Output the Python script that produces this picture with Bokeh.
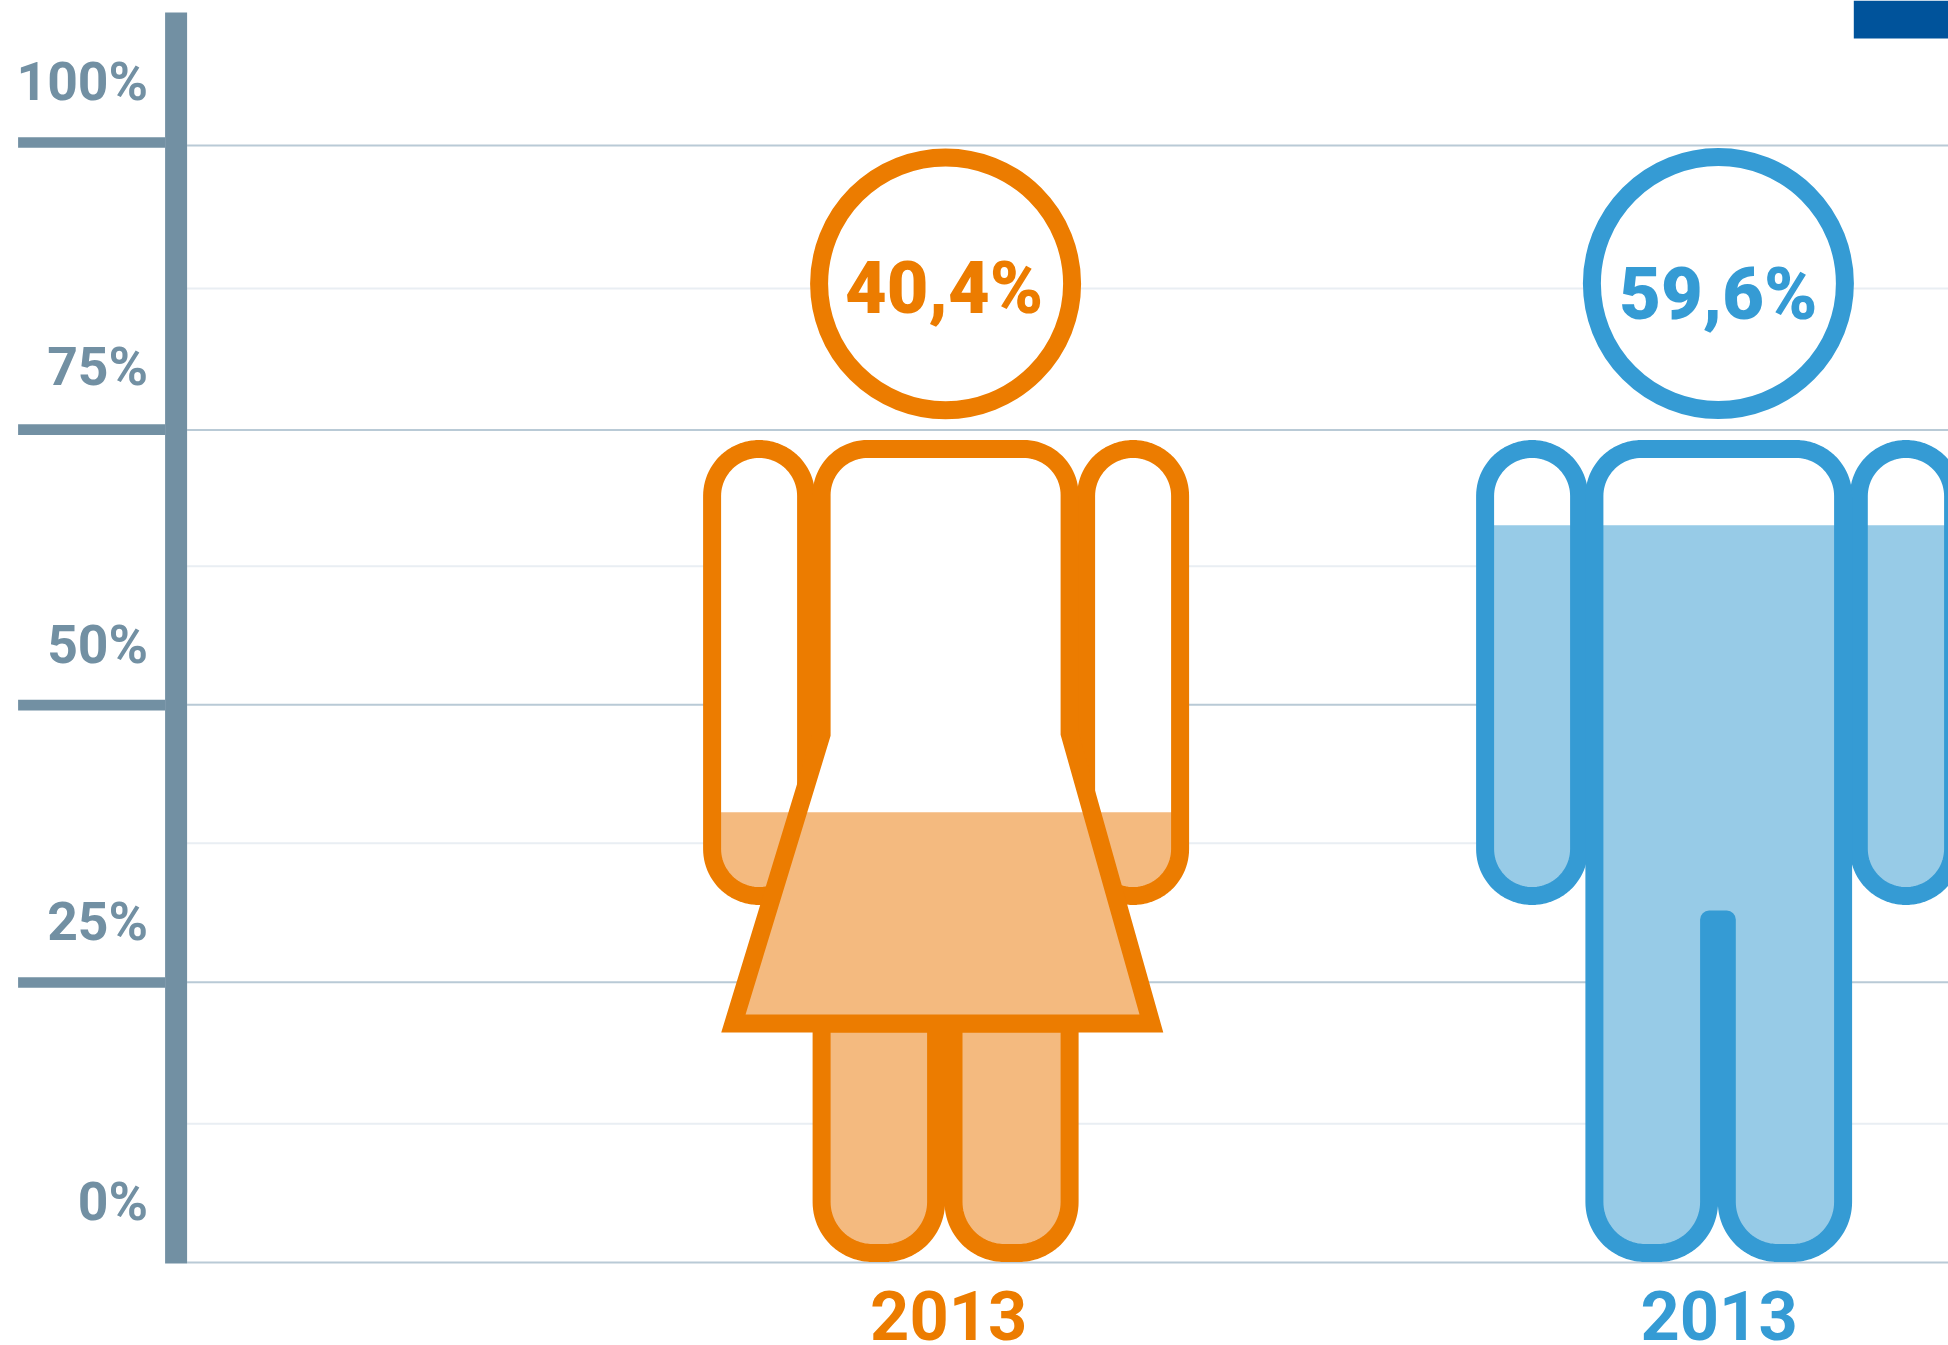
import math
from bokeh.plotting import figure
from bokeh.models import Range1d
from bokeh.core.properties import value
from bokeh.embed import file_html
from bokeh.resources import INLINE

# ---- data ----
axis_labels = ["100%", "75%", "50%", "25%", "0%"]
axis_ticks = [100.27, 74.56, 49.9, 25.07]
grid_major = [100.0, 74.53, 49.93, 25.1, 0.0]
grid_minor = [87.2, 62.34, 37.54, 12.42]
groups = ["Frauen", "Männer"]
years = ["2013", "2013"]
share_labels = ["40,4%", "59,6%"]
fill_levels = [40.3, 66.0]

# ---- colours ----
ORANGE, ORANGE_L = "#EC7C00", "#F4BA7F"
BLUE, BLUE_L = "#359BD4", "#97CBE7"
AXIS = "#7290A3"
MAJOR, MINOR = "#B9CAD6", "#E9EEF3"
NAVY = "#00539B"

# ---- scale: the y axis is in percent, the x axis in page pixels ----
W, H = 1948, 1345
BASE_PX, PX_PER_PCT = 1262.0, 11.17


def pct(py):
    return (BASE_PX - py) / PX_PER_PCT


p = figure(width=W, height=H, output_backend="svg", toolbar_location=None,
           x_range=Range1d(0.4, W + 0.4), y_range=Range1d(pct(H), pct(0)),
           min_border=0, outline_line_color=None, background_fill_color="white",
           border_fill_color="white", x_axis_location=None, y_axis_location=None)
p.xgrid.visible = False
p.ygrid.visible = False
p.styles = {"position": "absolute", "left": "0px", "top": "0px"}

SW = 18  # outline stroke of the pictograms


def rounded(pts):
    """Closed outline through (x, y, r) corners; corners are right angles when r>0."""
    out = []
    n = len(pts)
    for i in range(n):
        x, y, r = pts[i]
        if r == 0:
            out.append((x, y))
            continue
        px, py, _ = pts[i - 1]
        nx, ny, _ = pts[(i + 1) % n]
        l1 = math.hypot(px - x, py - y)
        l2 = math.hypot(nx - x, ny - y)
        u1 = ((px - x) / l1, (py - y) / l1)
        u2 = ((nx - x) / l2, (ny - y) / l2)
        cx, cy = x + r * (u1[0] + u2[0]), y + r * (u1[1] + u2[1])
        for k in range(25):
            t = k / 24 * math.pi / 2
            out.append((cx - r * (u2[0] * math.cos(t) + u1[0] * math.sin(t)),
                        cy - r * (u2[1] * math.cos(t) + u1[1] * math.sin(t))))
    return out


def clip_below(poly, level_px):
    """Part of a polygon under a horizontal pixel line."""
    out = []
    n = len(poly)
    for i in range(n):
        a, b = poly[i], poly[(i + 1) % n]
        ia, ib = a[1] >= level_px, b[1] >= level_px
        if ia:
            out.append(a)
        if ia != ib:
            t = (level_px - a[1]) / (b[1] - a[1])
            out.append((a[0] + t * (b[0] - a[0]), level_px))
    return out


def draw_part(poly, level, col, col_l, join):
    xs = [q[0] for q in poly]
    ys = [pct(q[1]) for q in poly]
    p.patch(xs, ys, fill_color="white", line_color=None)
    level_px = BASE_PX - level * PX_PER_PCT
    c = clip_below(poly, level_px)
    if c:
        p.patch([q[0] for q in c], [pct(q[1]) for q in c], fill_color=col_l, line_color=None)
    p.patch(xs, ys, fill_color=None, line_color=col, line_width=SW, line_join=join)


def arm(x0, x1, col, col_l, level):
    t, b, r = 448.5, 895.5, (x1 - x0) / 2
    draw_part(rounded([(x0, t, r), (x1, t, r), (x1, b, r), (x0, b, r)]), level, col, col_l, "round")


def leg(x0, x1, top, col, col_l, level):
    b, r = 1252.5, 51
    draw_part(rounded([(x0, top, 0), (x1, top, 0), (x1, b, r), (x0, b, r)]), level, col, col_l, "round")


def label(xs, ys_px, texts, size, color, align, k, font="Roboto"):
    # k: baseline correction of the text glyph, in font sizes
    p.text(x=xs, y=[pct(v - k * size) for v in ys_px], text=texts, text_font=value(font),
           text_font_style="bold", text_font_size=f"{size}px", text_color=color,
           text_align=align, text_baseline="alphabetic")


# ---- grid and axis ----
p.segment([187] * len(grid_major), grid_major, [W + 1] * len(grid_major), grid_major,
          line_color=MAJOR, line_width=2)
p.segment([187] * len(grid_minor), grid_minor, [W + 1] * len(grid_minor), grid_minor,
          line_color=MINOR, line_width=2)
p.quad(left=[165], right=[187], top=[pct(12)], bottom=[pct(1263)], fill_color=AXIS, line_color=None)
half = 5.3 / PX_PER_PCT
p.quad(left=[18] * len(axis_ticks), right=[165] * len(axis_ticks),
       top=[v + half for v in axis_ticks], bottom=[v - half for v in axis_ticks],
       fill_color=AXIS, line_color=None)
label([148] * len(axis_labels), (100, 385, 663.5, 940.5, 1220), axis_labels, 53.5, AXIS, "right", 0.36)

# ---- corner block ----
p.quad(left=[1853.7], right=[W + 1], top=[pct(0)], bottom=[pct(38)], fill_color=NAVY, line_color=None)

# ---- woman ----
lv = fill_levels[0]
arm(712, 806, ORANGE, ORANGE_L, lv)
arm(1086, 1180, ORANGE, ORANGE_L, lv)
leg(821.5, 936, 1023, ORANGE, ORANGE_L, lv)
leg(953.4, 1069.5, 1023, ORANGE, ORANGE_L, lv)
draw_part(rounded([(821.5, 448.5, 46), (1069.5, 448.5, 46), (1069.5, 733, 0),
                   (1151.3, 1023, 0), (733.3, 1023, 0), (821.5, 734, 0)]),
          lv, ORANGE, ORANGE_L, "miter")

# ---- man ----
lv = fill_levels[1]
arm(1485, 1579, BLUE, BLUE_L, lv)
arm(1858.7, 1953, BLUE, BLUE_L, lv)
draw_part(rounded([(1594.3, 448.5, 47), (1843, 448.5, 47), (1843, 1252.5, 51), (1726.7, 1252.5, 51),
                   (1726.7, 919, 0), (1709, 919, 0), (1709, 1252.5, 51), (1594.3, 1252.5, 51)]),
          lv, BLUE, BLUE_L, "round")

# ---- head circles with the shares ----
cols = [ORANGE, BLUE]
p.circle(x=[945.5, 1718.3], y=[pct(283.3), pct(283)], radius=126.5, fill_color="white",
         line_color=cols, line_width=SW)
label([944, 1718.3], (315, 320.5), share_labels, 72, cols, "center", 0.375, font="Roboto Black")

# ---- year labels ----
label([948.6, 1719], (1340.5, 1340.5), years, 68.5, cols, "center", 0.37)

open("out.html", "w").write(file_html(p, INLINE))
